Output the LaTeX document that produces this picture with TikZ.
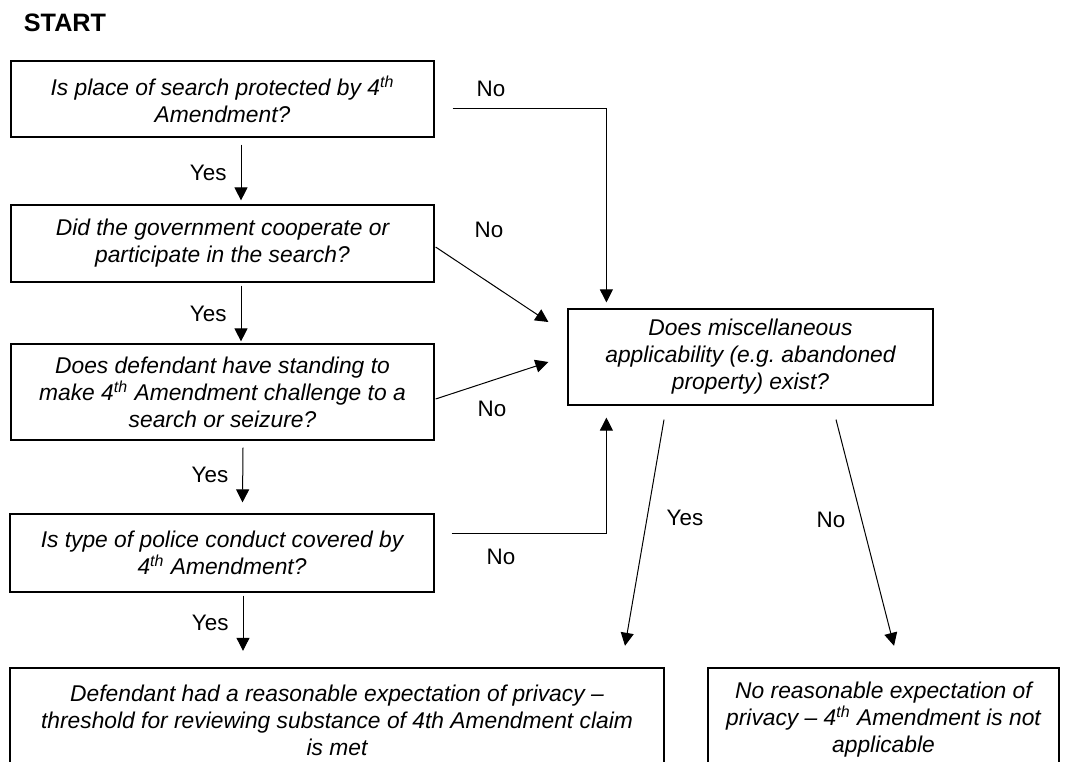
\documentclass[tikz,border=0pt]{standalone}
\usepackage{fontspec}
\setmainfont{Liberation Sans}
\usetikzlibrary{arrows.meta, positioning}

\begin{document}
\begin{tikzpicture}[x=0.5pt, y=-0.5pt,
    qbox/.style={rectangle, draw, line width=0.6pt, align=center, inner sep=0pt,
                 font=\fontsize{11.4}{13.5}\selectfont\itshape},
    endbox/.style={qbox, line width=1.2pt},
    lbl/.style={inner sep=0pt, font=\fontsize{11.2}{13.5}\selectfont},
    arr/.style={-{Triangle[length=6.5pt, width=6.5pt]}, line width=0.5pt}]

    \useasboundingbox (0,0) rectangle (1068,761);
    \clip (0,0) rectangle (1068,761);

    % Questions
    \node at (65, 23) [lbl, font=\fontsize{12.6}{14}\selectfont\bfseries] (start) {START};
    \node at (222.5, 99) [qbox, minimum width=211.5pt, minimum height=38pt] (place) {Is place of search protected by 4\textsuperscript{th}\\Amendment?};
    \node at (222.5, 243.5) [qbox, minimum width=211.5pt, minimum height=38.5pt] (govt) {Did the government cooperate or\\participate in the search?};
    \node at (222.5, 392) [qbox, minimum width=211.5pt, minimum height=48pt] (standing) {Does defendant have standing to\\make 4\textsuperscript{th} Amendment challenge to a\\search or seizure?};
    \node at (222, 553) [qbox, minimum width=212pt, minimum height=39pt] (conduct) {Is type of police conduct covered by\\4\textsuperscript{th} Amendment?};
    \node at (750.5, 357) [qbox, minimum width=182.5pt, minimum height=48pt] (misc) {Does miscellaneous\\applicability (e.g.\ abandoned\\property) exist?};

    % Outcomes
    \node at (337, 720) [endbox, minimum width=327pt, minimum height=52pt] (met) {Defendant had a reasonable expectation of privacy –\\threshold for reviewing substance of 4th Amendment claim\\is met};
    \node at (883.5, 720) [endbox, minimum width=175.5pt, minimum height=52pt] (notapp) {No reasonable expectation of\\privacy – 4\textsuperscript{th} Amendment is not\\applicable};

    % Yes path
    \draw[arr] ([shift={(18.5,7)}]place.south) -- ([shift={(18.5,-4)}]govt.north) node[midway, left=7pt, lbl] (yes1) {Yes};
    \draw[arr] ([shift={(18.5,3)}]govt.south) -- ([shift={(18.5,-2)}]standing.north) node[midway, left=7pt, lbl] (yes2) {Yes};
    \draw[arr] ([shift={(20.5,7)}]standing.south) -- ([shift={(20.5,-11)}]conduct.north) node[midway, left=7pt, lbl] (yes3) {Yes};
    \draw[arr] ([shift={(21,3)}]conduct.south) -- ([shift={(-94,-16)}]met.north) node[midway, left=7pt, lbl] (yes4) {Yes};

    % No path
    \draw[arr] ([shift={(18,9)}]place.east) -| ([shift={(39,-6)}]misc.north west);
    \draw[arr] ([shift={(1,3.5)}]govt.east) -- ([shift={(-19,-35)}]misc.west);
    \draw[arr] ([shift={(1,7)}]standing.east) -- ([shift={(-19,5)}]misc.west);
    \draw[arr] ([shift={(17,-20)}]conduct.east) -| ([shift={(39,12)}]misc.south west);
    \node at (491, 89) [lbl] (no1) {No};
    \node at (489, 230) [lbl] (no2) {No};
    \node at (492, 409) [lbl] (no3) {No};
    \node at (501, 557) [lbl] (no4) {No};

    % Misc applicability
    \draw[arr] ([shift={(-86.5,14)}]misc.south) -- ([shift={(288,-21)}]met.north);
    \draw[arr] ([shift={(85.5,14)}]misc.south) -- ([shift={(10.5,-21)}]notapp.north);
    \node at (685, 518) [lbl] (yes5) {Yes};
    \node at (831, 520) [lbl] (no5) {No};
\end{tikzpicture}
\end{document}
